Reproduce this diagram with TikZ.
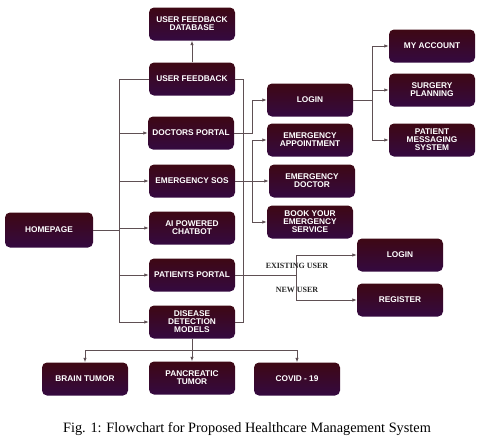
\documentclass[tikz,border=0pt]{standalone}
\usepackage{fontspec}
\setmainfont{Liberation Serif}
\setsansfont{Liberation Sans}
\usetikzlibrary{arrows.meta}
\definecolor{boxtop}{RGB}{62,8,20}
\definecolor{boxbot}{RGB}{52,9,64}
\definecolor{wire}{RGB}{95,80,84}
\begin{document}
\begin{tikzpicture}[x=1pt, y=-1pt,
    blk/.style={rounded corners=5pt, top color=boxtop, bottom color=boxbot, draw=none,
        minimum width=86pt, minimum height=33pt, inner sep=1pt, align=center, text=white,
        font=\sffamily\bfseries\fontsize{8.3}{8}\selectfont},
    link/.style={draw=wire, line width=0.8pt},
    arr/.style={link, -{Latex[length=4.5pt, width=3.5pt]}},
    tag/.style={font=\bfseries\fontsize{8}{8}\selectfont, text=black!85, inner sep=1pt}]
    \useasboundingbox (0,0) rectangle (495,442);
    % boxes
    \node[blk, minimum width=88pt, minimum height=35pt] (homepage) at (49,230) {HOMEPAGE};
    \node[blk] (feedbackdb) at (192,24) {USER FEEDBACK\\DATABASE};
    \node[blk] (feedback) at (192,79) {USER FEEDBACK};
    \node[blk] (doctors) at (191,133) {DOCTORS PORTAL};
    \node[blk] (sos) at (192,181) {EMERGENCY SOS};
    \node[blk] (chatbot) at (192,228) {AI POWERED\\CHATBOT};
    \node[blk] (patients) at (192,275) {PATIENTS PORTAL};
    \node[blk] (disease) at (192,322) {DISEASE\\DETECTION\\MODELS};
    \node[blk] (brain) at (85,379) {BRAIN TUMOR};
    \node[blk] (pancreas) at (192,378) {PANCREATIC\\TUMOR};
    \node[blk] (covid) at (297,379) {COVID - 19};
    \node[blk] (login) at (310,100) {LOGIN};
    \node[blk] (emappt) at (310,140) {EMERGENCY\\APPOINTMENT};
    \node[blk] (emdoc) at (312,181) {EMERGENCY\\DOCTOR};
    \node[blk] (embook) at (310,222) {BOOK YOUR\\EMERGENCY\\SERVICE};
    \node[blk] (account) at (432,46) {MY ACCOUNT};
    \node[blk] (surgery) at (432,90) {SURGERY\\PLANNING};
    \node[blk] (messaging) at (432,140) {PATIENT\\MESSAGING\\SYSTEM};
    \node[blk] (plogin) at (400,255) {LOGIN};
    \node[blk] (register) at (400,300) {REGISTER};
    % bus lines
    \coordinate (lbus) at (119,0);
    \coordinate (rbus) at (243,0);
    \coordinate (dbus) at (252,0);
    \coordinate (abus) at (372,0);
    \coordinate (pbus) at (296,0);
    \coordinate (bbar) at (0,350);
    % homepage to the portals
    \draw[link] (homepage.east) -- (lbus |- homepage);
    \draw[link] (feedback.west) -| (lbus |- disease);
    \foreach \n in {doctors,sos,chatbot,patients,disease}
        \draw[arr] (lbus |- \n) -- (\n.west);
    \draw[link] (feedback.east) -| (rbus |- disease) -- (disease.east);
    \draw[arr] (feedback.north) -- (feedbackdb.south);
    % doctors portal
    \draw[arr] (doctors.east) -| (dbus |- login) -- (login.west);
    \draw[link] (login.east) -- (abus |- login);
    \draw[link] (abus |- account) -- (abus |- messaging);
    \foreach \n in {account,surgery,messaging}
        \draw[arr] (abus |- \n) -- (\n.west);
    % emergency sos
    \draw[arr] (sos.east) -- (emdoc.west);
    \draw[link] (dbus |- emappt) -- (dbus |- embook);
    \foreach \n in {emappt,embook}
        \draw[arr] (dbus |- \n) -- (\n.west);
    % patients portal
    \draw[link] (patients.east) -- (pbus |- patients);
    \draw[link] (pbus |- plogin) -- (pbus |- register);
    \foreach \n in {plogin,register}
        \draw[arr] (pbus |- \n) -- (\n.west);
    \node[tag] (existing) at (297,266) {EXISTING USER};
    \node[tag] (newuser) at (297,290) {NEW USER};
    % disease detection models
    \draw[arr] (disease.south) -- (pancreas.north);
    \draw[link] (bbar -| brain) -- (bbar -| covid);
    \foreach \n in {brain,covid}
        \draw[arr] (bbar -| \n) -- (\n.north);
    \node[font=\fontsize{14.3}{16}\selectfont] (caption) at (247,429)
        {Fig. 1: Flowchart for Proposed Healthcare Management System};
\end{tikzpicture}
\end{document}
